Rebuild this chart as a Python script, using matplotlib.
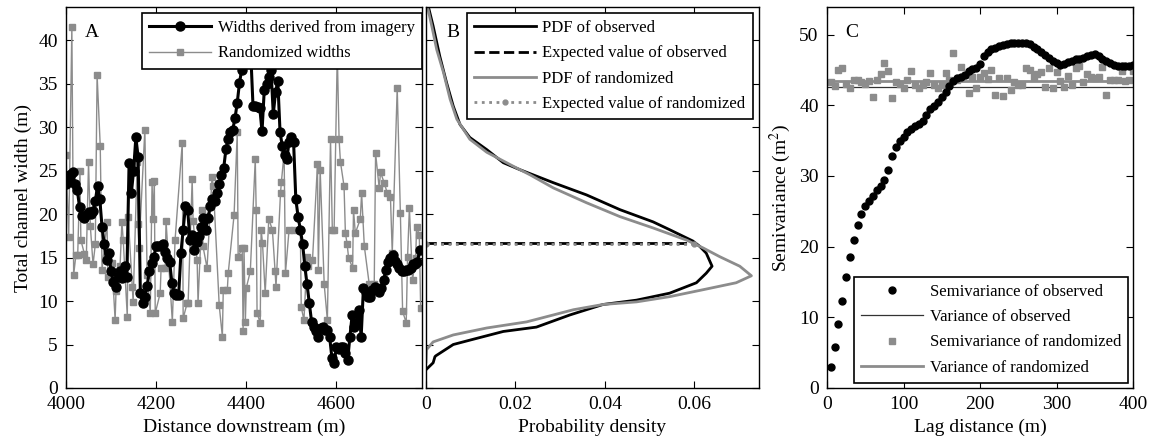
import numpy as np
import matplotlib
matplotlib.use("Agg")
import matplotlib.pyplot as plt

plt.rcParams['font.family'] = ['Liberation Serif', 'DejaVu Serif']
plt.rcParams['font.size'] = 14
plt.rcParams['mathtext.fontset'] = 'stix'

# --- Panel A: widths along the channel (5 m spacing, starting at 4000 m)
obs_start = 4000
obs_step = 5
obs_width = [
    23.5, 23.8, 24.6, 24.8, 23.4, 22.8, 20.8, 19.8, 19.6, 19.9,
    20.2, 20.0, 20.3, 21.5, 23.2, 21.7, 18.5, 16.5, 14.7, 15.5,
    13.4, 12.2, 11.6, 12.8, 13.4, 12.6, 14.0, 12.8, 25.9, 22.4,
    25.0, 28.8, 26.6, 10.9, 9.8, 10.5, 11.7, 13.5, 14.4, 15.1,
    16.3, 16.3, 16.3, 16.5, 15.6, 15.0, 14.5, 12.1, 10.9, 10.7,
    10.7, 15.5, 18.2, 20.9, 20.5, 17.0, 17.6, 15.9, 16.8, 17.5,
    18.5, 19.6, 18.2, 19.5, 20.9, 21.7, 21.5, 22.4, 23.4, 24.5,
    25.3, 27.5, 28.6, 29.4, 29.7, 31.0, 32.8, 35.1, 36.6, 38.5,
    40.5, 42.0, 38.5, 32.4, 32.4, 32.3, 32.2, 29.5, 34.3, 35.0,
    35.8, 36.5, 31.5, 34.0, 35.3, 29.4, 27.8, 26.8, 26.3, 28.3,
    28.9, 28.3, 21.7, 19.7, 18.2, 16.6, 14.0, 11.9, 9.8, 7.6,
    7.0, 6.5, 5.9, 6.9, 7.0, 6.7, 6.7, 5.9, 3.5, 2.9,
    4.7, 4.5, 4.7, 4.7, 4.0, 3.2, 5.9, 8.4, 7.0, 7.5,
    9.0, 5.9, 11.5, 11.0, 10.5, 10.5, 11.3, 11.6, 11.3, 11.0,
    11.5, 12.4, 13.6, 14.5, 15.0, 15.3, 14.6, 14.2, 13.8, 13.4,
    13.4, 13.6, 13.6, 13.8, 14.2, 14.2, 14.5, 15.9,
]

rand_dist = [
    4000, 4006, 4013, 4017, 4022, 4026, 4031, 4033, 4041, 4045,
    4050, 4054, 4060, 4065, 4069, 4076, 4080, 4091, 4093, 4102,
    4109, 4111, 4120, 4124, 4127, 4136, 4138, 4147, 4149, 4158,
    4160, 4162, 4175, 4180, 4187, 4191, 4193, 4196, 4198, 4209,
    4211, 4220, 4222, 4236, 4242, 4258, 4260, 4269, 4271, 4280,
    4282, 4291, 4293, 4302, 4304, 4313, 4324, 4327, 4340, 4347,
    4349, 4358, 4360, 4373, 4380, 4382, 4391, 4393, 4395, 4398,
    4400, 4409, 4420, 4422, 4424, 4431, 4433, 4436, 4442, 4450,
    4458, 4464, 4466, 4476, 4478, 4484, 4487, 4495, 4506, 4520,
    4522, 4528, 4535, 4538, 4547, 4558, 4560, 4564, 4573, 4580,
    4587, 4591, 4595, 4602, 4606, 4609, 4617, 4620, 4624, 4627,
    4636, 4638, 4642, 4653, 4656, 4662, 4673, 4684, 4687, 4695,
    4698, 4706, 4713, 4720, 4724, 4735, 4742, 4747, 4755, 4758,
    4762, 4769, 4776, 4778, 4784, 4787,
]
rand_width = [
    26.8, 17.4, 41.5, 13.0, 15.3, 15.3, 24.9, 17.0, 15.4, 14.7,
    26.0, 18.6, 14.2, 16.5, 36.0, 27.8, 13.6, 19.1, 12.8, 14.4,
    7.8, 11.1, 14.0, 19.1, 17.0, 8.2, 19.7, 11.6, 9.9, 26.0,
    18.8, 16.1, 29.7, 13.0, 8.6, 23.7, 19.4, 23.8, 8.6, 10.9,
    13.8, 13.8, 19.2, 7.6, 17.0, 28.2, 8.0, 9.8, 9.8, 24.0,
    19.2, 14.7, 9.8, 20.5, 16.3, 13.8, 24.2, 23.2, 9.5, 5.9,
    11.3, 11.3, 13.2, 19.9, 29.4, 15.1, 16.1, 6.5, 16.1, 7.6,
    11.5, 13.4, 26.3, 20.5, 8.6, 7.5, 18.2, 16.7, 10.9, 19.4,
    18.2, 13.4, 11.6, 22.4, 23.7, 27.0, 13.2, 18.2, 18.2, 18.2,
    9.3, 7.8, 15.1, 14.0, 14.7, 25.7, 13.6, 25.1, 11.9, 7.8,
    28.6, 18.2, 18.2, 38.5, 28.6, 26.0, 23.2, 17.8, 16.5, 15.0,
    13.8, 20.5, 17.8, 19.4, 22.4, 16.3, 11.9, 11.9, 27.0, 23.0,
    24.8, 23.6, 22.4, 21.9, 15.5, 34.5, 20.1, 8.8, 7.5, 15.1,
    20.7, 12.4, 15.0, 18.5, 17.6, 9.2,
]

# --- Panel B: probability density curves (density, width)
pdf_obs_density = [0.0, 0.0016, 0.0020, 0.0022, 0.0061, 0.0098, 0.0173, 0.0247,
                   0.0322, 0.0396, 0.0471, 0.0545, 0.0605, 0.0627, 0.0640, 0.0627,
                   0.0612, 0.0597, 0.0545, 0.0508, 0.0434, 0.0359, 0.0285, 0.0210,
                   0.0173, 0.0136, 0.0098, 0.0076, 0.0061, 0.0046, 0.0031, 0.0016, 0.0005]
pdf_obs_width = [2.1, 2.9, 3.6, 3.7, 5.0, 5.5, 6.5, 7.0,
                 8.4, 9.6, 10.1, 10.9, 12.1, 13.2, 14.0, 15.5,
                 16.3, 16.9, 18.2, 19.1, 20.5, 22.2, 23.6, 25.1,
                 25.9, 27.4, 28.8, 30.3, 32.4, 35.1, 38.1, 41.6, 43.9]
pdf_rand_density = [0.0, 0.0001, 0.0016, 0.0061, 0.0136, 0.0225, 0.0285, 0.0330,
                    0.0396, 0.0471, 0.0545, 0.0620, 0.0694, 0.0728, 0.0702, 0.0657,
                    0.0620, 0.0583, 0.0508, 0.0434, 0.0359, 0.0285, 0.0233, 0.0195,
                    0.0136, 0.0098, 0.0069, 0.0054, 0.0039, 0.0024, 0.0013, 0.0003]
pdf_rand_width = [3.0, 4.4, 5.3, 6.1, 6.9, 7.6, 8.4, 9.0,
                  9.6, 9.9, 10.5, 11.3, 12.1, 12.9, 14.0, 15.1,
                  16.1, 17.0, 18.4, 19.7, 21.3, 23.0, 24.5, 25.5,
                  27.1, 28.6, 30.9, 33.2, 36.3, 38.9, 41.6, 43.9]
expected_obs = 16.7
expected_rand = 16.55
expected_obs_pdf = 0.0595
expected_rand_pdf = 0.0600

# --- Panel C: semivariograms (lags of 5 m)
lag_step = 5
semivar_obs = [
    3.0, 5.8, 9.0, 12.3, 15.7, 18.6, 21.0, 23.1, 24.6, 25.8,
    26.5, 27.2, 28.0, 28.6, 29.4, 30.8, 32.8, 34.1, 34.9, 35.5,
    36.2, 36.6, 37.0, 37.3, 37.8, 38.6, 39.4, 39.9, 40.4, 41.2,
    41.9, 42.7, 43.4, 43.9, 44.0, 44.3, 44.8, 45.1, 45.3, 45.8,
    47.0, 47.5, 47.9, 48.1, 48.4, 48.5, 48.7, 48.8, 48.8, 48.8,
    48.8, 48.8, 48.6, 48.3, 47.9, 47.5, 47.1, 46.7, 46.3, 46.0,
    45.7, 45.8, 46.1, 46.3, 46.5, 46.6, 46.7, 46.9, 47.1, 47.3,
    47.0, 46.6, 46.3, 46.0, 45.7, 45.6, 45.6, 45.6, 45.6, 45.7,
]
semivar_rand = [
    43.3, 42.7, 45.0, 45.2, 43.0, 42.4, 43.6, 43.6, 43.3, 43.0,
    43.4, 41.2, 43.6, 44.4, 46.0, 44.8, 41.0, 43.3, 43.0, 42.5,
    43.6, 44.8, 42.9, 42.5, 42.9, 43.3, 44.6, 42.9, 42.5, 42.9,
    44.6, 43.6, 47.4, 43.6, 45.4, 44.3, 41.7, 44.0, 42.4, 44.0,
    44.5, 43.7, 45.0, 41.5, 43.8, 41.3, 43.8, 42.2, 43.3, 42.9,
    42.9, 45.2, 45.0, 44.0, 44.4, 44.7, 42.6, 45.2, 42.4, 44.7,
    43.4, 42.6, 44.1, 42.9, 45.2, 45.5, 43.3, 44.4, 44.0, 43.8,
    44.0, 45.4, 41.5, 43.6, 43.6, 43.6, 44.8, 43.5, 43.6, 44.8,
]
variance_obs = 42.6
variance_rand = 43.4

GRAY = '#8c8c8c'
LEG = dict(fancybox=False, edgecolor='black', framealpha=1, handlelength=3.7,
           fontsize=12, labelspacing=0.55, borderpad=0.45, handletextpad=0.4,
           borderaxespad=0)

fig = plt.figure(figsize=(11.55, 4.42), dpi=100)
axA = fig.add_axes([66 / 1155, 54 / 442, 356 / 1155, 381 / 442])
axB = fig.add_axes([426 / 1155, 54 / 442, 333 / 1155, 381 / 442])
axC = fig.add_axes([827 / 1155, 54 / 442, 306 / 1155, 381 / 442])

for ax in (axA, axB, axC):
    ax.tick_params(direction='in', top=True, right=True, length=5, width=0.8, pad=6)
    for s in ax.spines.values():
        s.set_linewidth(1.0)

# A
obs_dist = obs_start + obs_step * np.arange(len(obs_width))
axA.plot(obs_dist, obs_width, '-o', color='black', lw=2.2, ms=6.5,
         label='Widths derived from imagery', zorder=3)
axA.plot(rand_dist, rand_width, '-s', color=GRAY, lw=1.0, ms=4.2,
         label='Randomized widths', zorder=2)
axA.set_xlim(4000, 4790)
axA.set_ylim(0, 43.8)
axA.set_xticks([4000, 4200, 4400, 4600])
axA.set_yticks(np.arange(0, 41, 5))
axA.set_xlabel('Distance downstream (m)')
axA.set_ylabel('Total channel width (m)')
axA.text(0.054, 0.932, 'A', transform=axA.transAxes, fontsize=14, va='center')
legA = axA.legend(loc='upper right', bbox_to_anchor=(1.0, 0.985), **LEG)
legA.get_frame().set_linewidth(1.2)

# B
axB.plot(pdf_obs_density, pdf_obs_width, color='black', lw=2.0, label='PDF of observed')
axB.plot([0, expected_obs_pdf], [expected_obs, expected_obs], '--', color='black', lw=2.0,
         label='Expected value of observed')
axB.plot(pdf_rand_density, pdf_rand_width, color=GRAY, lw=2.0, label='PDF of randomized')
axB.plot([0, expected_rand_pdf], [expected_rand, expected_rand], ':', color=GRAY, lw=2.0,
         marker='.', ms=7, label='Expected value of randomized')
axB.set_xlim(0, 0.0745)
axB.set_ylim(0, 43.8)
axB.set_xticks([0, 0.02, 0.04, 0.06])
axB.set_xticklabels(['0', '0.02', '0.04', '0.06'])
axB.set_yticks(np.arange(0, 41, 5))
axB.set_yticklabels([])
axB.set_xlabel('Probability density')
axB.text(0.062, 0.932, 'B', transform=axB.transAxes, fontsize=14, va='center')
legB = axB.legend(loc='upper right', bbox_to_anchor=(0.982, 0.985), **LEG)
legB.get_frame().set_linewidth(1.2)

# C
lags = lag_step * np.arange(1, len(semivar_obs) + 1)
axC.plot(lags, semivar_obs, 'o', color='black', ms=5, label='Semivariance of observed', zorder=3)
axC.axhline(variance_obs, color='#333333', lw=0.9, label='Variance of observed')
axC.plot(lags, semivar_rand, 's', color=GRAY, ms=4.5, label='Semivariance of randomized', zorder=2)
axC.axhline(variance_rand, color=GRAY, lw=2.0, label='Variance of randomized')
axC.set_xlim(0, 400)
axC.set_ylim(0, 53.9)
axC.set_xticks([0, 100, 200, 300, 400])
axC.set_yticks([0, 10, 20, 30, 40, 50])
axC.set_xlabel('Lag distance (m)')
axC.set_ylabel('Semivariance (m$^2$)')
axC.text(0.059, 0.932, 'C', transform=axC.transAxes, fontsize=14, va='center')
legC = axC.legend(loc='lower right', bbox_to_anchor=(0.985, 0.013), **LEG)
legC.get_frame().set_linewidth(1.2)

fig.savefig('out.png', dpi=100)
